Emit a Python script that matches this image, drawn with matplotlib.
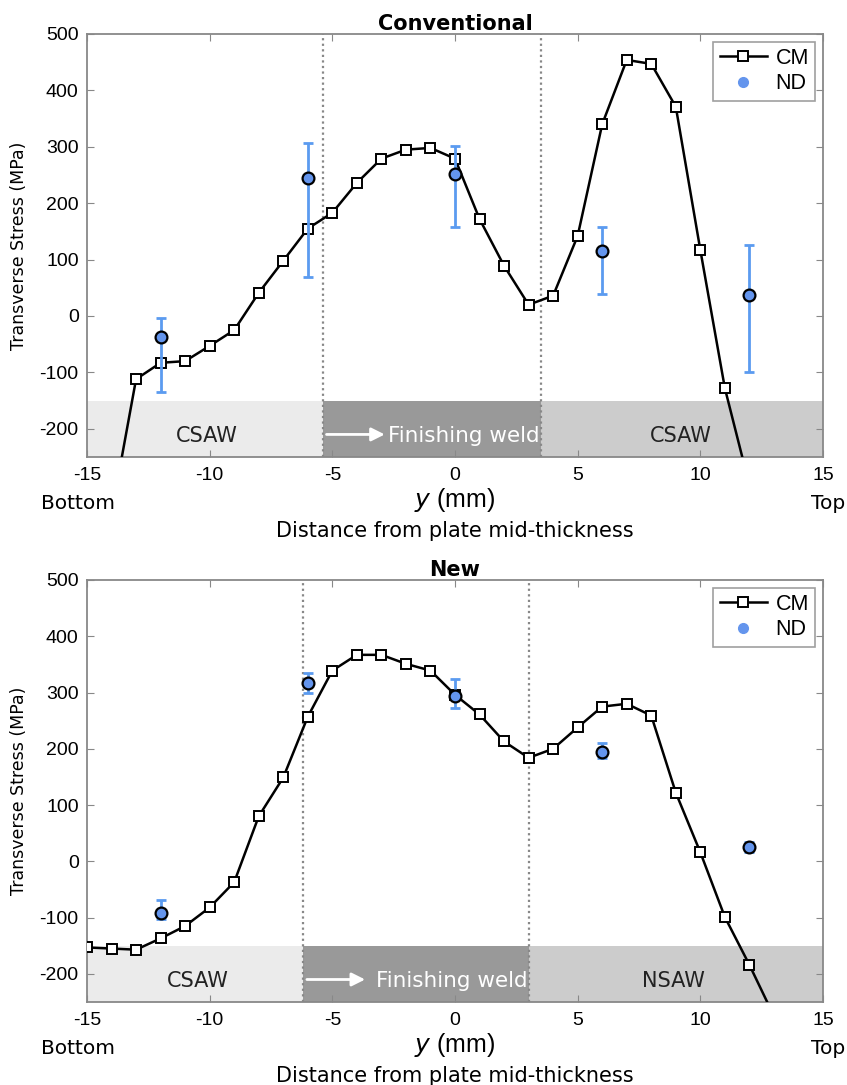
import matplotlib
matplotlib.use("Agg")
import matplotlib.pyplot as plt
import numpy as np

# ---- data ----
cm_x_top = [-14, -13, -12, -11, -10, -9, -8, -7, -6, -5, -4, -3, -2, -1, 0, 1, 2, 3, 4, 5, 6, 7, 8, 9, 10, 11, 12]
cm_y_top = [-350, -112, -83, -80, -53, -25, 41, 98, 155, 183, 236, 279, 295, 298, 279, 172, 89, 20, 36, 142, 340, 454, 447, 371, 117, -128, -300]
nd_x_top = [-12, -6, 0, 6, 12]
nd_y_top = [-37, 245, 252, 116, 37]
nd_lo_top = [-134, 70, 158, 39, -100]
nd_hi_top = [-3, 306, 301, 158, 126]

cm_x_new = [-15, -14, -13, -12, -11, -10, -9, -8, -7, -6, -5, -4, -3, -2, -1, 0, 1, 2, 3, 4, 5, 6, 7, 8, 9, 10, 11, 12, 13]
cm_y_new = [-153, -155, -157, -137, -115, -82, -37, 80, 149, 257, 339, 367, 367, 351, 339, 296, 261, 213, 184, 200, 238, 275, 280, 259, 122, 16, -99, -184, -275]
nd_x_new = [-12, -6, 0, 6, 12]
nd_y_new = [-92, 317, 293, 195, 25]
nd_lo_new = [-103, 300, 273, 184, 16]
nd_hi_new = [-69, 335, 324, 211, 35]

titles = ["Conventional", "New"]
vlines = [(-5.4, 3.5), (-6.2, 3.0)]
zone_labels = [("CSAW", "Finishing weld", "CSAW"), ("CSAW", "Finishing weld", "NSAW")]
zone_label_x = [(-10.1, 9.2), (-10.5, 8.9)]
yticks = [-200, -100, 0, 100, 200, 300, 400, 500]
xticks = [-15, -10, -5, 0, 5, 10, 15]

W, H = 847, 1085
fig = plt.figure(figsize=(W / 100, H / 100), dpi=100)

axes_rects = [
    [87 / W, 1 - 457 / H, (823 - 87) / W, (457 - 34) / H],
    [87 / W, 1 - 1002 / H, (823 - 87) / W, (1002 - 580) / H],
]

datasets = [
    (cm_x_top, cm_y_top, nd_x_top, nd_y_top, nd_lo_top, nd_hi_top),
    (cm_x_new, cm_y_new, nd_x_new, nd_y_new, nd_lo_new, nd_hi_new),
]

tick_font = "Liberation Sans"
blue = "#6495ED"
errc = "#5b9bf0"

for i, ax_rect in enumerate(axes_rects):
    ax = fig.add_axes(ax_rect)
    cx, cy, nx, ny, nlo, nhi = datasets[i]
    v1, v2 = vlines[i]
    ax.set_xlim(-15, 15)
    ax.set_ylim(-250, 500)

    # shaded zones
    ax.axvspan(-15, v1, ymin=0, ymax=100 / 750, color="#ebebeb", lw=0, zorder=0)
    ax.axvspan(v1, v2, ymin=0, ymax=100 / 750, color="#999999", lw=0, zorder=0)
    ax.axvspan(v2, 15, ymin=0, ymax=100 / 750, color="#cccccc", lw=0, zorder=0)
    ax.axvline(v1, color="#888888", ls=(0, (1, 1.5)), lw=1.6, zorder=1)
    ax.axvline(v2, color="#888888", ls=(0, (1, 1.5)), lw=1.6, zorder=1)

    la, lb, lc = zone_labels[i]
    xa, xc = zone_label_x[i]
    ax.text(xa, -212, la, ha="center", va="center", fontsize=15, color="#222222", zorder=2)
    ax.text(xc, -212, lc, ha="center", va="center", fontsize=15, color="#222222", zorder=2)
    ax.annotate("", xy=(v1 + 2.65, -210), xytext=(v1 + 0.05, -210),
                arrowprops=dict(arrowstyle="-|>", color="white", lw=2, mutation_scale=20), zorder=2)
    ax.text(v2 - 0.05, -212, lb, ha="right", va="center", fontsize=15.5, color="white", zorder=2)

    # CM line
    ax.plot(cx, cy, "-s", color="black", lw=1.8, mfc="white", mec="black", mew=1.4, ms=6.5,
            label="CM", zorder=4)
    # ND with errors
    yerr = [np.array(ny) - np.array(nlo), np.array(nhi) - np.array(ny)]
    ax.errorbar(nx, ny, yerr=yerr, fmt="none", ecolor=errc, elinewidth=2, capsize=3.8, capthick=2, zorder=5)
    ax.plot(nx, ny, "o", color=blue, mec="black", mew=1.6, ms=8.5, zorder=6, ls="none")
    ax.plot([], [], "o", color=blue, mec=blue, ms=7, ls="none", label="ND")

    leg = ax.legend(loc="upper right", frameon=True, fancybox=False, borderpad=0.3,
                    handlelength=2.2, handletextpad=0.4, borderaxespad=0.35, labelspacing=0.2,
                    prop={"family": tick_font, "size": 15.5})
    leg.get_frame().set_edgecolor("#888888")
    leg.get_frame().set_linewidth(1.2)

    ax.set_xticks(xticks)
    ax.set_yticks(yticks)
    ax.set_xticklabels([str(t) for t in xticks], fontfamily=tick_font, fontsize=14)
    ax.set_yticklabels([str(t) for t in yticks], fontfamily=tick_font, fontsize=14)
    ax.tick_params(direction="in", length=5, color="#888888", top=True, right=True)
    ax.tick_params(axis="x", pad=7)
    ax.tick_params(axis="y", pad=6)
    for s in ax.spines.values():
        s.set_color("#888888")
        s.set_linewidth(1.3)

    ax.set_title(titles[i], fontsize=15, fontweight="bold", pad=3)
    ax.set_ylabel("Transverse Stress (MPa)", fontsize=12.5, labelpad=8)
    ax.text(0.5, -0.102, r"$y$ (mm)", transform=ax.transAxes, ha="center", va="center", fontsize=18,
            fontfamily=tick_font)
    ax.text(0.5, -0.175, "Distance from plate mid-thickness", transform=ax.transAxes, ha="center",
            va="center", fontsize=15)
    ax.text(-0.063, -0.11, "Bottom", transform=ax.transAxes, ha="left", va="center", fontsize=14.5)
    ax.text(1.03, -0.11, "Top", transform=ax.transAxes, ha="right", va="center", fontsize=14.5)

fig.savefig("out.png", dpi=100)
